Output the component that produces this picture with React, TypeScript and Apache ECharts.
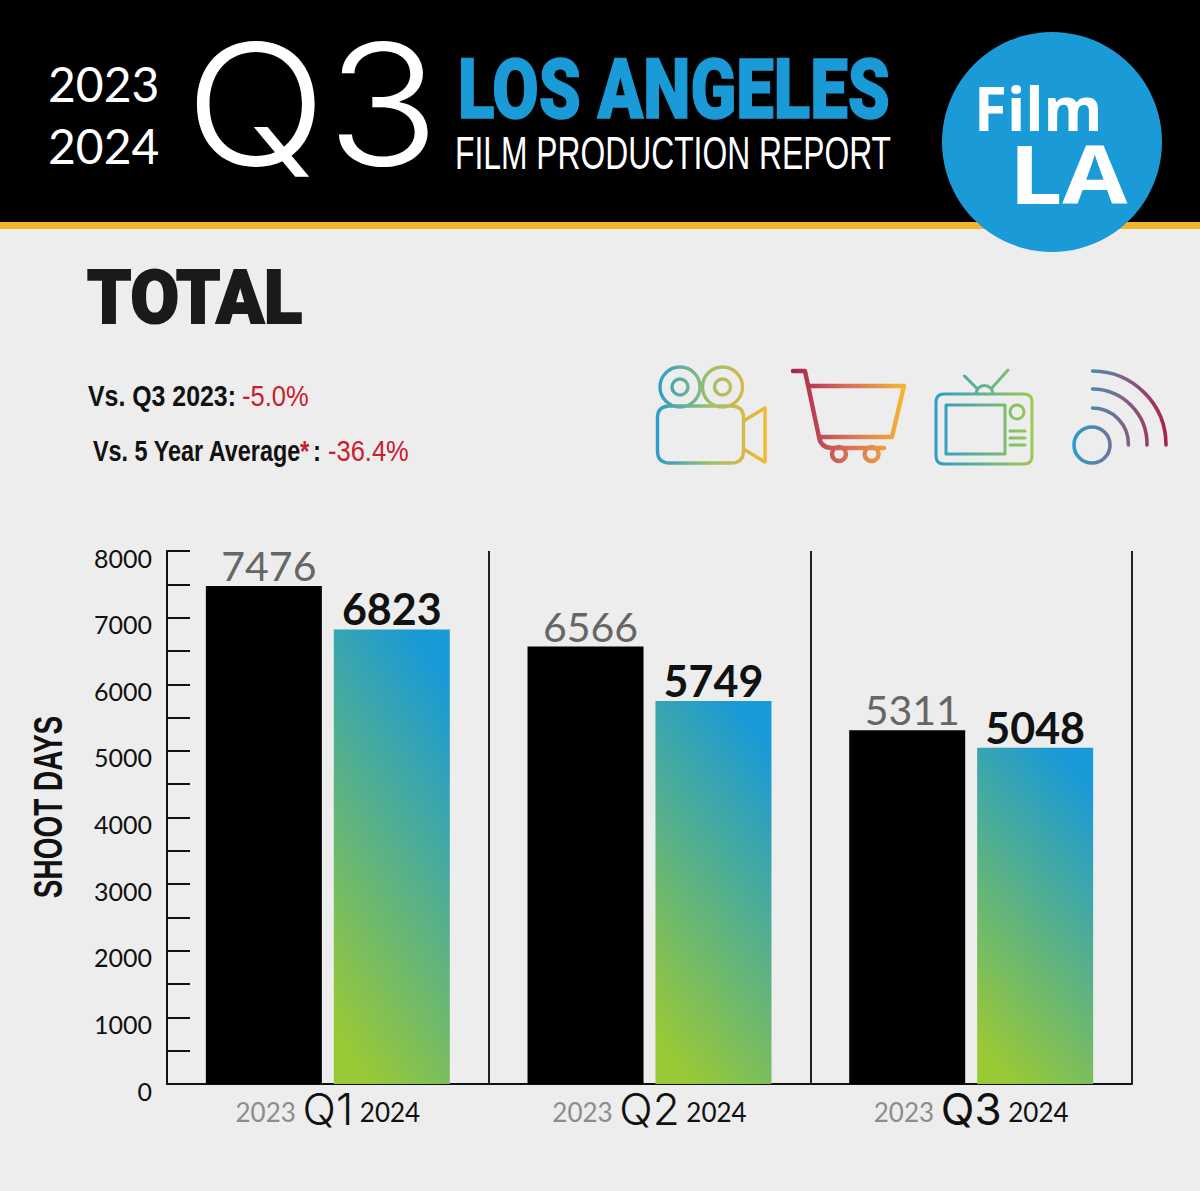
import React, { useEffect, useRef } from "react";
import * as echarts from "echarts";

const quarters = ["Q1", "Q2", "Q3"];
const values2023 = [7476, 6566, 5311];
const values2024 = [6823, 5749, 5048];
const yMax = 8000;
const yStep = 1000;

const cameraPath =
  "M700 387A20 20 0 1 1 660 387A20 20 0 1 1 700 387Z M688 387A8 8 0 1 1 672 387A8 8 0 1 1 688 387Z " +
  "M742.5 387A20 20 0 1 1 702.5 387A20 20 0 1 1 742.5 387Z M730.5 387A8 8 0 1 1 714.5 387A8 8 0 1 1 730.5 387Z " +
  "M670 406L731 406Q743.5 406 743.5 418L743.5 451Q743.5 463 731 463L670 463Q657.5 463 657.5 451L657.5 418Q657.5 406 670 406Z " +
  "M743.5 421L765 408L765 462L743.5 449";
const cartPath =
  "M793 371L805 371L819 437Q821 448 832 448L884 448 M810 386L904 386L892 437L821 437 " +
  "M846 454A7 7 0 1 1 832 454A7 7 0 1 1 846 454Z M878.6 454A7 7 0 1 1 864.6 454A7 7 0 1 1 878.6 454Z";
const tvPath =
  "M944 394L1024 394Q1032 394 1032 402L1032 456Q1032 464 1024 464L944 464Q936 464 936 456L936 402Q936 394 944 394Z " +
  "M946 405L1005 405L1005 454L946 454Z M1024 412A7 7 0 1 1 1010 412A7 7 0 1 1 1024 412Z " +
  "M1010 431L1025 431 M1010 438L1025 438 M1010 445L1025 445 " +
  "M976 394A8.5 8.5 0 0 1 993 394 M964.5 376L977.5 389 M1008 370L991 389";
const wifiPath =
  "M1110 445A18 18 0 1 1 1074 445A18 18 0 1 1 1110 445Z " +
  "M1092.6 408A36 36 0 0 1 1128.4 445 M1092.6 389A55 55 0 0 1 1147 445 M1092.6 371A74 74 0 0 1 1166 445";

echarts.graphic.registerShape("cameraIcon", echarts.graphic.extendPath(cameraPath, {}));
echarts.graphic.registerShape("cartIcon", echarts.graphic.extendPath(cartPath, {}));
echarts.graphic.registerShape("tvIcon", echarts.graphic.extendPath(tvPath, {}));
echarts.graphic.registerShape("wifiIcon", echarts.graphic.extendPath(wifiPath, {}));

const SANS = '"Liberation Sans"';

const gradient = (x: number, y: number, x2: number, y2: number, stops: string[]) => ({
  type: "linear",
  x,
  y,
  x2,
  y2,
  global: true,
  colorStops: stops.map((color, i) => ({ offset: i / (stops.length - 1), color })),
});

const icon = (type: string, stroke: any, lineWidth: number) => ({
  type,
  x: 0,
  y: 0,
  style: { fill: "none", stroke, lineWidth, lineCap: "round", lineJoin: "round" },
});

const txt = (
  text: string,
  x: number,
  y: number,
  font: string,
  fill: string,
  scaleX = 1,
  extra: any = {}
) => ({
  type: "text",
  x,
  y,
  scaleX,
  style: { text, font, fill, textAlign: "left", textVerticalAlign: "middle", ...extra },
});

const App = () => {
  const ref = useRef<HTMLDivElement>(null);
  useEffect(() => {
    document.body.style.margin = "0";
    const chart = echarts.init(ref.current!, null, { renderer: "svg" });
    chart.setOption({
      animation: false,
      backgroundColor: "#ecedec",
      grid: { left: 167, right: 68, top: 551, bottom: 107, containLabel: false },
      xAxis: {
        type: "category",
        data: quarters,
        axisLine: { show: true, lineStyle: { color: "#111", width: 2 } },
        axisTick: { show: false },
        splitLine: { show: true, interval: 0, lineStyle: { color: "#222", width: 2 } },
        axisLabel: {
          interval: 0,
          margin: 3,
          formatter: (q: string) => `{a|2023}  {${q === "Q3" ? "q3" : "q"}|${q}}  {b|2024}`,
          rich: {
            a: { fontFamily: "Lato", fontSize: 26, color: "#8c8c8c", padding: [5, 0, 0, 0] },
            q: { fontFamily: "Inter", fontWeight: 300, fontSize: 44, color: "#111" },
            q3: { fontFamily: "Inter", fontWeight: 400, fontSize: 44, color: "#111" },
            b: { fontFamily: "Lato", fontSize: 26, color: "#111", padding: [5, 0, 0, 0] },
          },
        },
      },
      yAxis: {
        type: "value",
        min: 0,
        max: yMax,
        interval: yStep,
        axisLine: { show: true, lineStyle: { color: "#111", width: 2 } },
        axisTick: { show: true, inside: true, length: 23, lineStyle: { color: "#111", width: 2 } },
        minorTick: { show: true, splitNumber: 2, length: 23, lineStyle: { color: "#111", width: 2 } },
        splitLine: { show: false },
        minorSplitLine: { show: false },
        axisLabel: {
          margin: 15,
          fontFamily: "Lato",
          fontSize: 25,
          color: "#111",
          formatter: (v: number) => String(v),
          verticalAlign: "top",
          lineHeight: 13,
        },
      },
      series: [
        {
          type: "bar",
          name: "2023",
          data: values2023,
          barWidth: 116,
          barGap: "10.3%",
          itemStyle: { color: "#000" },
          label: {
            show: true,
            position: "top",
            distance: 0,
            offset: [5, 0],
            fontFamily: "Lato",
            fontSize: 41,
            color: "#666",
          },
        },
        {
          type: "bar",
          name: "2024",
          data: values2024,
          barWidth: 116,
          itemStyle: {
            color: {
              type: "linear",
              x: 0.3,
              y: 1,
              x2: 0.7,
              y2: 0,
              colorStops: [
                { offset: 0, color: "#9ac936" },
                { offset: 1, color: "#1899d8" },
              ],
            },
          },
          label: {
            show: true,
            position: "top",
            distance: 0,
            offset: [0, 1],
            fontFamily: "Lato",
            fontWeight: "bold",
            fontSize: 43,
            color: "#111",
          },
        },
      ],
      graphic: {
        elements: [
          { type: "rect", shape: { x: 0, y: 0, width: 1200, height: 223 }, style: { fill: "#000" } },
          { type: "rect", shape: { x: 0, y: 222, width: 1200, height: 7 }, style: { fill: "#f6b42c" } },
          { type: "circle", shape: { cx: 1052, cy: 142, r: 110 }, style: { fill: "#1a9ad6" } },
          txt("2023", 48, 83, '48px "Lato"', "#fff"),
          txt("2024", 48, 145, '48px "Lato"', "#fff"),
          txt("Q3", 185, 104, '300 168px "Inter"', "#fff", 1.11),
          txt("LOS ANGELES", 458, 89, '900 84px "Roboto"', "#1a9ad6", 0.8, { stroke: "#1a9ad6", lineWidth: 1.5 }),
          txt("FILM PRODUCTION REPORT", 455, 153, `47px ${SANS}`, "#fff", 0.677),
          txt("Film", 974, 108, 'bold 60px "Open Sans"', "#fff"),
          txt("LA", 1009, 173, 'bold 80px "Open Sans"', "#fff", 1.18),
          txt("TOTAL", 87, 298, '900 74px "Roboto"', "#1a1a1a", 0.95, { stroke: "#1a1a1a", lineWidth: 2 }),
          txt("Vs. Q3 2023:", 88, 396, `bold 30px ${SANS}`, "#111", 0.83),
          txt("-5.0%", 242, 396, `30px ${SANS}`, "#c8202d", 0.85),
          txt("Vs. 5 Year Average", 93, 451, `bold 30px ${SANS}`, "#111", 0.78),
          txt("*", 300, 451, `bold 30px ${SANS}`, "#c8202d", 0.8),
          txt(":", 313, 451, `bold 30px ${SANS}`, "#111", 0.8),
          txt("-36.4%", 328, 451, `30px ${SANS}`, "#c8202d", 0.85),
          {
            type: "text",
            x: 48,
            y: 807,
            rotation: Math.PI / 2,
            scaleX: 0.7,
            style: {
              text: "SHOOT DAYS",
              font: `bold 40px ${SANS}`,
              fill: "#111",
              textAlign: "center",
              textVerticalAlign: "middle",
            },
          },
          icon("cameraIcon", gradient(657, 0, 765, 0, ["#2a9dcc", "#9fc06a", "#f6b62e"]), 3.4),
          icon("cartIcon", gradient(792, 0, 905, 0, ["#a8234f", "#d8705a", "#f6b62e"]), 4.4),
          icon("tvIcon", gradient(936, 0, 1032, 0, ["#2a9dcc", "#9cc850"]), 3),
          icon("wifiIcon", gradient(1073, 0, 1166, 0, ["#2a9dcc", "#7a6a8c", "#a8234f"]), 3.6),
        ],
      },
    });
    return () => chart.dispose();
  }, []);
  return <div ref={ref} style={{ position: "absolute", left: 0, top: 0, width: 1200, height: 1191 }} />;
};

export default App;
